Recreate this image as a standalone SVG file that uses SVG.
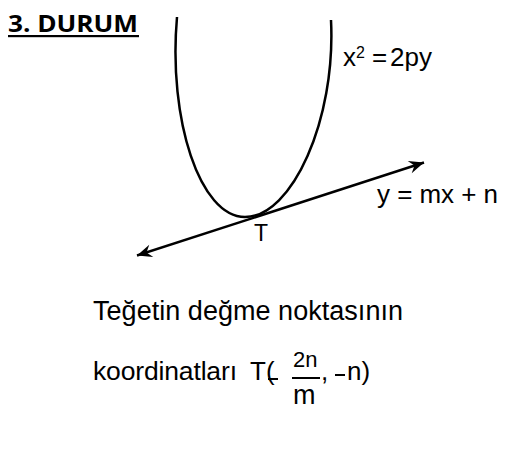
<svg xmlns="http://www.w3.org/2000/svg" width="523" height="457" viewBox="0 0 523 457">
<defs>
<style>
.t{font-family:"Liberation Sans",Arial,sans-serif;fill:#000}
.h{font-family:"Open Sans","DejaVu Sans",sans-serif;font-weight:bold;fill:#000}
.c{fill:none;stroke:#000;stroke-width:2.5}
</style>
<marker id="ah" viewBox="-16 -8 18 16" markerWidth="18" markerHeight="16" refX="0" refY="0" orient="auto-start-reverse" markerUnits="userSpaceOnUse">
<path d="M0,0 L-15,-6.5 L-10,0 L-15,6.5 Z" fill="#000"/>
</marker>
</defs>
<rect width="523" height="457" fill="#fff"/>
<g id="title">
<text class="h" x="8" y="32" font-size="24" textLength="130" lengthAdjust="spacingAndGlyphs">3. DURUM</text>
<rect x="8" y="35" width="131" height="2.2" fill="#000"/>
</g>
<g id="parabola">
<path class="c" d="M177,17 C168,120 200,217 245,217 C292,217 336,120 331,20"/>
<text class="t" x="343" y="66" font-size="26">x</text>
<text class="t" x="356" y="58" font-size="16">2</text>
<text class="t" x="372" y="66" font-size="26">=</text>
<text class="t" x="390" y="66" font-size="26">2py</text>
</g>
<g id="connectors">
<line class="c" x1="137" y1="255.5" x2="424" y2="162.5" marker-start="url(#ah)" marker-end="url(#ah)"/>
</g>
<g id="line-label">
<text class="t" x="377" y="203" font-size="26" textLength="121">y = mx + n</text>
</g>
<g id="pointT">
<text class="t" x="254" y="241" font-size="23">T</text>
</g>
<g id="caption">
<text class="t" x="93" y="320" font-size="27" textLength="310">Teğetin değme noktasının</text>
<text class="t" x="93" y="380" font-size="26.5" textLength="144">koordinatları</text>
<text class="t" x="250" y="380" font-size="26">T(</text>
<rect x="268" y="378" width="10" height="2" fill="#000"/>
<text class="t" x="293" y="367" font-size="22">2n</text>
<rect x="292" y="377" width="28" height="2" fill="#000"/>
<text class="t" x="293" y="404" font-size="27">m</text>
<text class="t" x="321" y="380" font-size="26">,</text>
<rect x="335" y="374" width="10" height="2" fill="#000"/>
<text class="t" x="347" y="380" font-size="26">n)</text>
</g>
</svg>
